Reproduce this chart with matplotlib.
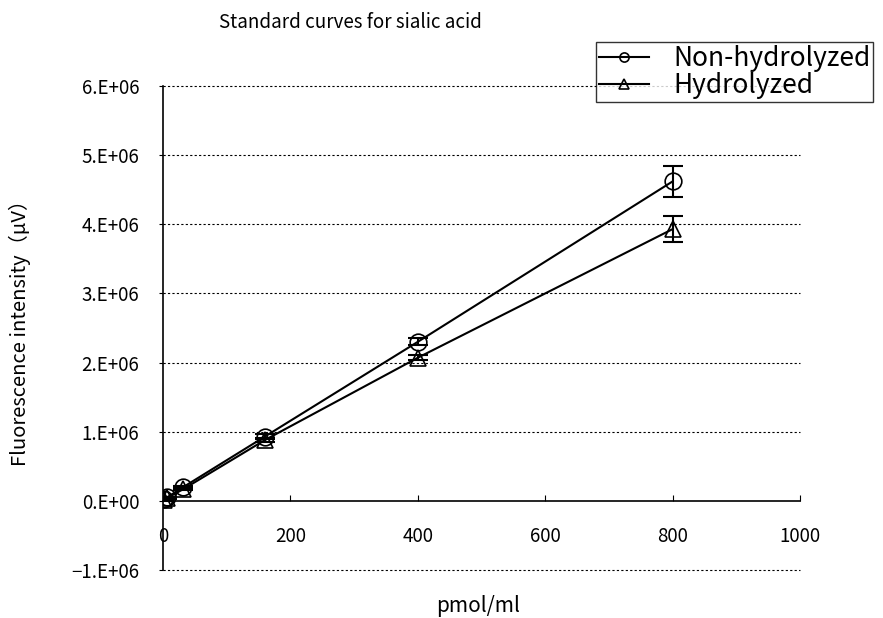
import matplotlib
matplotlib.use("Agg")
import matplotlib.pyplot as plt
from matplotlib.ticker import FuncFormatter

plt.rcParams["font.family"] = ["Noto Sans CJK JP", "DejaVu Sans"]

# standard concentrations (pmol/ml)
conc = [1.28, 6.4, 32, 160, 400, 800]

# fluorescence intensity (uV)
non_hydro = [0.02e6, 0.05e6, 0.20e6, 0.93e6, 2.30e6, 4.62e6]
non_hydro_err = [0.01e6, 0.01e6, 0.02e6, 0.03e6, 0.05e6, 0.23e6]
hydro = [0.01e6, 0.04e6, 0.17e6, 0.88e6, 2.07e6, 3.93e6]
hydro_err = [0.01e6, 0.01e6, 0.02e6, 0.03e6, 0.04e6, 0.19e6]

y_ticks = [-1e6, 0, 1e6, 2e6, 3e6, 4e6, 5e6, 6e6]
x_ticks = [0, 200, 400, 600, 800, 1000]

W, H = 883, 618
fig = plt.figure(figsize=(W / 100, H / 100), dpi=100)
ax = fig.add_axes([163 / W, 1 - 570 / H, 637 / W, 484 / H])

# dotted horizontal grid (the zero line is the x axis itself)
for yv in y_ticks:
    if yv != 0:
        ax.axhline(yv, color="black", linestyle=(0, (2, 2)), linewidth=0.8,
                   zorder=1, clip_on=False)

line_style = dict(color="black", linewidth=1.5, markersize=12, markerfacecolor="none",
                  markeredgecolor="black", markeredgewidth=1.2, zorder=3)
err_style = dict(fmt="none", ecolor="black", elinewidth=1.5, capsize=7, capthick=1.5, zorder=3)

ax.plot(conc, non_hydro, marker="o", label="Non-hydrolyzed", **line_style)
ax.errorbar(conc, non_hydro, yerr=non_hydro_err, **err_style)
ax.plot(conc, hydro, marker="^", label="Hydrolyzed", **line_style)
ax.errorbar(conc, hydro, yerr=hydro_err, **err_style)

ax.set_xlim(0, 1000)
ax.set_ylim(-1e6, 6e6)

ax.spines["top"].set_visible(False)
ax.spines["right"].set_visible(False)
ax.spines["bottom"].set_position(("data", 0))
ax.spines["bottom"].set_linewidth(1.2)
ax.spines["left"].set_linewidth(1.2)

ax.set_xticks(x_ticks)
ax.set_yticks(y_ticks)
ax.tick_params(axis="x", direction="in", length=4, pad=18, labelsize=13.5)
ax.tick_params(axis="y", direction="out", length=3, pad=14, labelsize=13.5)


def sci_fmt(v, pos):
    if v == 0:
        return "0.E+00"
    m = v / 1e6
    if m < 0:
        return f"\u2212{abs(m):.0f}.E+06"
    return f"{m:.0f}.E+06"


ax.yaxis.set_major_formatter(FuncFormatter(sci_fmt))

fig.text(350 / W, 1 - 22 / H, "Standard curves for sialic acid", ha="center", va="center", fontsize=13.5)
fig.text(478 / W, 1 - 606 / H, "pmol/ml", ha="center", va="center", fontsize=15)
fig.text(20 / W, 1 - 328 / H, "Fluorescence intensity（μV）", ha="center", va="center",
         rotation=90, fontsize=14.5)

leg = fig.legend(loc="upper left", bbox_to_anchor=(596 / W, 1 - 42 / H), fontsize=19,
                 frameon=True, fancybox=False, edgecolor="black", handlelength=1.9,
                 markerscale=0.55, borderpad=0.12, labelspacing=0.0, handletextpad=0.9,
                 borderaxespad=0)
leg.get_frame().set_linewidth(1.0)

fig.savefig("out.png", dpi=100)
